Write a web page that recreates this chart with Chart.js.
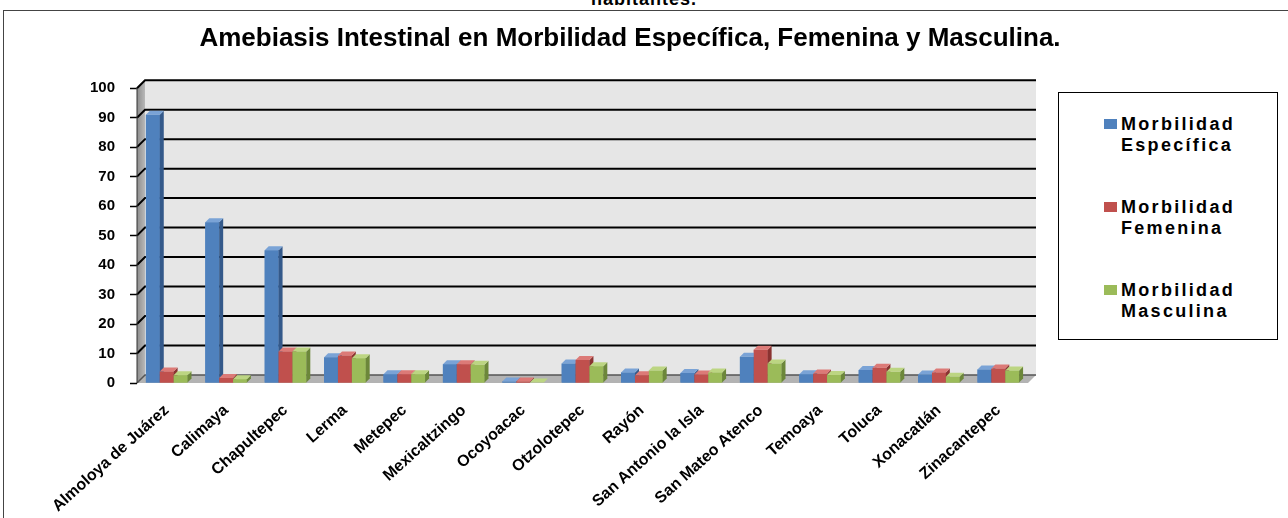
<!DOCTYPE html>
<html>
<head>
<meta charset="utf-8">
<script src="https://cdn.jsdelivr.net/npm/chart.js@4/dist/chart.umd.min.js"></script>
<style>
  html, body { margin: 0; padding: 0; background: #fff; overflow: hidden; }
  body { width: 1288px; height: 518px; position: relative; font-family: "Liberation Sans", Arial, sans-serif; }
  #top { position: absolute; left: 0; width: 1288px; top: -11px; text-align: center; font-weight: bold; font-size: 18px; letter-spacing: 1px; color: #000; }
  #frame { position: absolute; left: 3px; top: 10px; width: 1300px; height: 520px; border: 1px solid #444; box-sizing: border-box; }
  #wrap { position: absolute; left: 3px; top: 10px; width: 1254px; height: 508px; }
  #legend { position: absolute; left: 1058px; top: 92px; width: 220px; height: 248px; border: 1px solid #000; box-sizing: border-box; background: #fff; }
  .item { position: absolute; left: 62px; font-weight: bold; font-size: 18px; letter-spacing: 2.3px; line-height: 21px; color: #000; white-space: nowrap; }
  .sw { position: absolute; left: -17px; top: 5px; width: 13px; height: 10px; }
</style>
</head>
<body>
<div id="top">habitantes.</div>
<div id="frame"></div>
<div id="wrap"><canvas id="c"></canvas></div>
<div id="legend"></div>
<script>
// municipios y tasas
const municipios = ["Almoloya de Juárez", "Calimaya", "Chapultepec", "Lerma", "Metepec",
  "Mexicaltzingo", "Ocoyoacac", "Otzolotepec", "Rayón", "San Antonio la Isla",
  "San Mateo Atenco", "Temoaya", "Toluca", "Xonacatlán", "Zinacantepec"];
const especifica = [91, 54.5, 45, 8.7, 3, 6.4, 0.5, 6.6, 3.6, 3.4, 8.9, 3, 4.4, 2.9, 4.6];
const femenina   = [3.9, 1.7, 10.7, 9.3, 3, 6.4, 0.5, 7.8, 2.6, 2.9, 11.3, 3.2, 5.2, 3.6, 4.9];
const masculina  = [2.6, 1.3, 10.7, 8.4, 3, 6.2, 0.2, 5.7, 4.2, 3.6, 6.6, 2.7, 3.8, 2.1, 4.2];
const yTicks = [0, 10, 20, 30, 40, 50, 60, 70, 80, 90, 100];

const series = [
  { label: ["Morbilidad", "Específica"], data: especifica, color: "#4f81bd", side: "#34598a", topc: "#7aa3d6" },
  { label: ["Morbilidad", "Femenina"], data: femenina, color: "#c0504d", side: "#8a3331", topc: "#dc7a77" },
  { label: ["Morbilidad", "Masculina"], data: masculina, color: "#9bbb59", side: "#6c873a", topc: "#bcd582" },
];

// leyenda en html (las etiquetas van en dos líneas)
const legend = document.getElementById("legend");
const tops = [21, 104, 187];
series.forEach((s, i) => {
  const d = document.createElement("div");
  d.className = "item";
  d.style.top = tops[i] + "px";
  d.innerHTML = '<span class="sw" style="background:' + s.color + '"></span>' + s.label[0] + "<br>" + s.label[1];
  legend.appendChild(d);
});

const DEPTH = 8;   // fondo del "3D"
const BAR_D = 4;   // profundidad de cada barra

const backdrop = {
  id: "backdrop",
  // pared, piso y líneas de cuadrícula desplazadas hacia atrás
  beforeDatasetsDraw(chart) {
    const { ctx, chartArea: a, scales } = chart;
    const d = DEPTH;
    ctx.save();
    ctx.fillStyle = "#e6e6e6";
    ctx.fillRect(a.left + d, a.top - d, a.right - a.left, a.bottom - a.top);
    const g = ctx.createLinearGradient(a.left, 0, a.left + d, 0);
    g.addColorStop(0, "#8c8c8c");
    g.addColorStop(1, "#b8b8b8");
    ctx.fillStyle = g;
    ctx.beginPath();
    ctx.moveTo(a.left, a.top);
    ctx.lineTo(a.left + d, a.top - d);
    ctx.lineTo(a.left + d, a.bottom - d);
    ctx.lineTo(a.left, a.bottom);
    ctx.closePath();
    ctx.fill();
    ctx.fillStyle = "#b3b3b3";
    ctx.beginPath();
    ctx.moveTo(a.left, a.bottom);
    ctx.lineTo(a.left + d, a.bottom - d);
    ctx.lineTo(a.right + d, a.bottom - d);
    ctx.lineTo(a.right, a.bottom);
    ctx.closePath();
    ctx.fill();
    ctx.strokeStyle = "#000";
    ctx.lineWidth = 2;
    yTicks.forEach((v) => {
      if (v === 0) return;
      const y = scales.y.getPixelForValue(v);
      ctx.beginPath();
      ctx.moveTo(a.left, y);
      ctx.lineTo(a.left + d, y - d);
      ctx.lineTo(a.right + d, y - d);
      ctx.stroke();
    });
    ctx.lineWidth = 1.5;
    ctx.strokeStyle = "#555";
    ctx.beginPath();
    ctx.moveTo(a.left, a.bottom);
    ctx.lineTo(a.left + d, a.bottom - d);
    ctx.lineTo(a.right + d, a.bottom - d);
    ctx.stroke();
    ctx.strokeStyle = "#333";
    ctx.lineWidth = 1;
    ctx.beginPath();
    ctx.moveTo(a.left, a.top);
    ctx.lineTo(a.left, a.bottom);
    ctx.stroke();
    ctx.restore();
  },
  // redibuja cada barra con su cara lateral y superior, en orden de serie
  afterDatasetsDraw(chart) {
    const { ctx } = chart;
    const k = BAR_D;
    const metas = series.map((s, i) => chart.getDatasetMeta(i));
    ctx.save();
    municipios.forEach((m, j) => {
      metas.forEach((meta, i) => {
        const s = series[i];
        const { x, y, base, width } = meta.data[j].getProps(["x", "y", "base", "width"], true);
        const l = x - width / 2, r = x + width / 2;
        ctx.fillStyle = s.color;
        ctx.fillRect(l, y, width, base - y);
        ctx.fillStyle = s.side;
        ctx.beginPath();
        ctx.moveTo(r, y);
        ctx.lineTo(r + k, y - k);
        ctx.lineTo(r + k, base - k);
        ctx.lineTo(r, base);
        ctx.closePath();
        ctx.fill();
        ctx.fillStyle = s.topc;
        ctx.beginPath();
        ctx.moveTo(l, y);
        ctx.lineTo(l + k, y - k);
        ctx.lineTo(r + k, y - k);
        ctx.lineTo(r, y);
        ctx.closePath();
        ctx.fill();
      });
    });
    ctx.restore();
  },
};

new Chart(document.getElementById("c"), {
  type: "bar",
  data: {
    labels: municipios,
    datasets: series.map((s) => ({
      label: s.label.join(" "),
      data: s.data,
      backgroundColor: s.color,
      borderWidth: 0,
      barPercentage: 1.0,
      categoryPercentage: 0.7,
    })),
  },
  options: {
    responsive: true,
    maintainAspectRatio: false,
    animation: false,
    layout: { padding: { left: 0, right: 0, top: 0, bottom: 0 } },
    plugins: {
      legend: { display: false },
      tooltip: { enabled: false },
      title: {
        display: true,
        text: "Amebiasis Intestinal en Morbilidad Específica, Femenina y Masculina.",
        color: "#000",
        font: { family: "Liberation Sans", size: 26, weight: "bold" },
        padding: { top: 13, bottom: 34 },
      },
    },
    scales: {
      x: {
        grid: { display: false },
        border: { display: false },
        ticks: {
          color: "#000",
          autoSkip: false,
          maxRotation: 42,
          minRotation: 42,
          padding: 10,
          font: { family: "Liberation Sans", size: 16, weight: "bold" },
        },
        afterFit(scale) { scale.height = 135; },
      },
      y: {
        min: 0,
        max: 100,
        afterBuildTicks(scale) { scale.ticks = yTicks.map((v) => ({ value: v })); },
        afterFit(scale) { scale.width = 134; },
        grid: { drawOnChartArea: false, tickLength: 7, tickColor: "#000", tickWidth: 1.5 },
        border: { display: false },
        ticks: {
          color: "#000",
          padding: 15,
          font: { family: "Liberation Sans", size: 15, weight: "bold" },
        },
      },
      // eje vacío a la derecha: reserva el lugar de la leyenda
      yr: {
        position: "right",
        display: true,
        grid: { display: false },
        border: { display: false },
        ticks: { display: false },
        afterFit(scale) { scale.width = 229; },
      },
    },
  },
  plugins: [backdrop],
});
</script>
</body>
</html>
